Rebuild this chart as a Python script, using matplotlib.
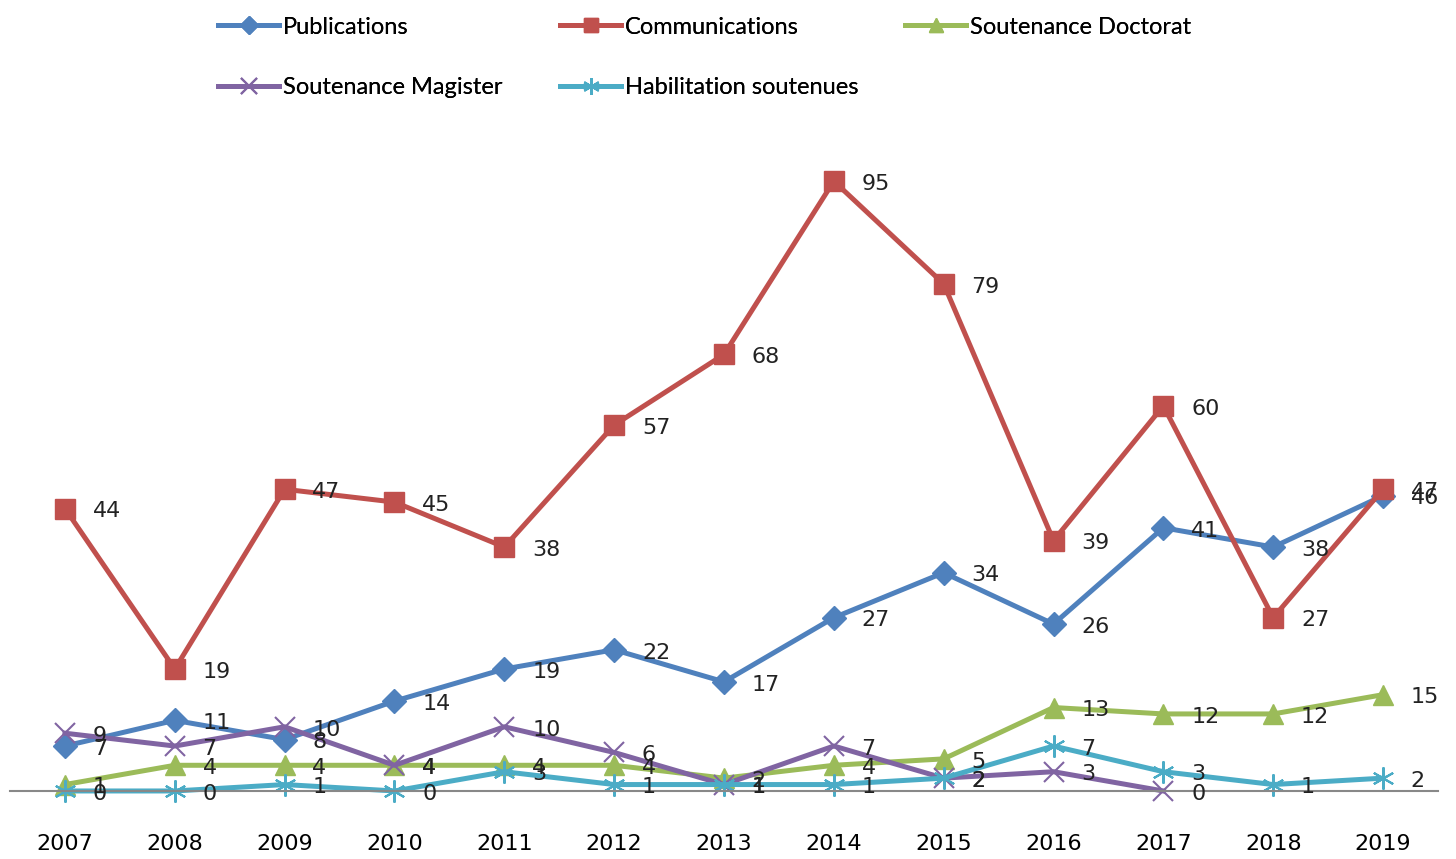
import numpy as np
from matplotlib import pyplot as plt

plt.rcParams['font.family'] = ['DejaVu Sans']

years = [2007, 2008, 2009, 2010, 2011, 2012, 2013, 2014, 2015, 2016, 2017, 2018, 2019]
publications = [7, 11, 8, 14, 19, 22, 17, 27, 34, 26, 41, 38, 46]
communications = [44, 19, 47, 45, 38, 57, 68, 95, 79, 39, 60, 27, 47]
doctorat = [1, 4, 4, 4, 4, 4, 2, 4, 5, 13, 12, 12, 15]
magister = [9, 7, 10, 4, 10, 6, 1, 7, 2, 3, 0, np.nan, np.nan]
habilitation = [0, 0, 1, 0, 3, 1, 1, 1, 2, 7, 3, 1, 2]

series = [
    ('Publications', publications, '#4F81BD', 'D', 12),
    ('Communications', communications, '#C0504D', 's', 14),
    ('Soutenance Doctorat', doctorat, '#9BBB59', '^', 14),
    ('Soutenance Magister', magister, '#8064A2', 'x', 15),
    ('Habilitation soutenues', habilitation, '#4BACC6', (6, 2, 0), 16),
]

fig = plt.figure(figsize=(14.56, 8.59), dpi=100)
ax = fig.add_axes([0.0069, 0.0792, 0.9807, 0.7473])
x = np.arange(len(years))

handles = {}
for name, vals, col, mk, ms in series:
    thin = mk == 'x' or isinstance(mk, tuple)
    h, = ax.plot(x, vals, color=col, lw=3.6, marker=mk, ms=ms,
                 mec=col, mew=1.5 if thin else 1,
                 clip_on=False, label=name)
    handles[name] = h
    for xi, v in zip(x, vals):
        if np.isnan(v):
            continue
        ax.annotate(str(int(v)), (xi, v), xytext=(20, -2), textcoords='offset points',
                    ha='left', va='center', fontsize=16, color='#222222')

ax.set_xlim(-0.5, len(years) - 0.5)
ax.set_ylim(0, 100)
ax.set_xticks(x)
ax.set_xticklabels(years, fontsize=16)
ax.tick_params(axis='x', length=0, pad=31)
ax.set_yticks([])
for s in ['top', 'right', 'left']:
    ax.spines[s].set_visible(False)
ax.spines['bottom'].set_color('#888888')
ax.spines['bottom'].set_linewidth(1.5)

# legend entries placed one by one, two rows like the original
leg_pos = {
    'Publications': (218, 27),
    'Communications': (560, 27),
    'Soutenance Doctorat': (905, 27),
    'Soutenance Magister': (218, 88),
    'Habilitation soutenues': (560, 88),
}
for name, (px, py) in leg_pos.items():
    lg = fig.legend([handles[name]], [name], loc='center left',
                    bbox_to_anchor=(px / 1456, 1 - py / 859),
                    frameon=False, borderpad=0, borderaxespad=0,
                    handlelength=2.6, handletextpad=0.15, markerscale=0.75,
                    prop={'family': ['Lato', 'DejaVu Sans'], 'size': 17})
    fig.add_artist(lg)

fig.savefig('out.png', dpi=100)
